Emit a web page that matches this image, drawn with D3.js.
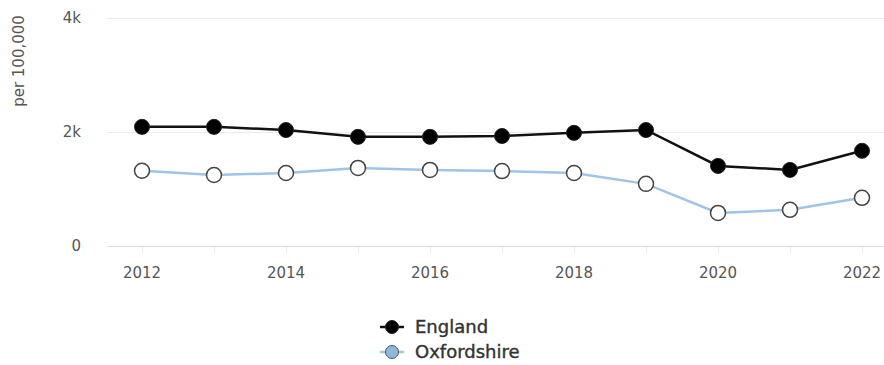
<!DOCTYPE html>
<html>
<head>
<meta charset="utf-8">
<script src="https://cdn.jsdelivr.net/npm/d3@7"></script>
<style>
  body { margin: 0; background: #fff; }
  svg text { font-family: "DejaVu Sans", sans-serif; }
</style>
</head>
<body>
<div id="chart"></div>
<script>
var years = [2012, 2013, 2014, 2015, 2016, 2017, 2018, 2019, 2020, 2021, 2022];
var england = [2090, 2090, 2035, 1915, 1915, 1930, 1985, 2035, 1405, 1335, 1670];
var oxfordshire = [1320, 1245, 1280, 1370, 1335, 1315, 1280, 1090, 580, 635, 845];
var yTicks = [0, 2000, 4000];
var xTicks = [2012, 2014, 2016, 2018, 2020, 2022];

var svg = d3.select("#chart").append("svg")
    .attr("width", 884)
    .attr("height", 365);

var x = d3.scaleLinear()
    .domain([2012, 2022])
    .range([142, 862]);

var y = d3.scaleLinear()
    .domain([0, 4000])
    .range([246, 18]);

// grid
svg.append("g")
  .selectAll("line")
  .data(yTicks).enter()
  .append("line")
    .attr("x1", 107)
    .attr("x2", 884)
    .attr("y1", d => y(d) + 0.5)
    .attr("y2", d => y(d) + 0.5)
    .attr("stroke", d => d == 0 ? "#d8dde6" : "#ececec")
    .attr("stroke-width", 1);

// x tick marks
svg.append("g")
  .selectAll("line")
  .data(years).enter()
  .append("line")
    .attr("x1", d => x(d) + 0.5)
    .attr("x2", d => x(d) + 0.5)
    .attr("y1", 247)
    .attr("y2", 254)
    .attr("stroke", "#ececec");

svg.append("g")
  .selectAll("text")
  .data(xTicks).enter()
  .append("text")
    .attr("x", d => x(d))
    .attr("y", 278)
    .attr("text-anchor", "middle")
    .attr("fill", "#555")
    .style("font-size", "15px")
    .text(d => d);

svg.append("g")
  .selectAll("text")
  .data(yTicks).enter()
  .append("text")
    .attr("x", 81)
    .attr("y", d => y(d) + 5)
    .attr("text-anchor", "end")
    .attr("fill", "#555")
    .style("font-size", "15px")
    .text(d => d == 0 ? "0" : (d / 1000) + "k");

svg.append("text")
    .attr("transform", "translate(24,61) rotate(-90)")
    .attr("text-anchor", "middle")
    .attr("fill", "#555")
    .style("font-size", "15px")
    .text("per 100,000");

var line = d3.line()
    .x((d, i) => x(years[i]))
    .y(d => y(d));

svg.append("path")
    .attr("d", line(oxfordshire))
    .attr("fill", "none")
    .attr("stroke", "#9fc4e8")
    .attr("stroke-width", 2.5);

svg.append("path")
    .attr("d", line(england))
    .attr("fill", "none")
    .attr("stroke", "#111")
    .attr("stroke-width", 2.5);

svg.append("g")
  .selectAll("circle")
  .data(england).enter()
  .append("circle")
    .attr("cx", (d, i) => x(years[i]))
    .attr("cy", d => y(d))
    .attr("r", 7.5)
    .attr("fill", "#000")
    .attr("stroke", "#222")
    .attr("stroke-width", 1);

svg.append("g")
  .selectAll("circle")
  .data(oxfordshire).enter()
  .append("circle")
    .attr("cx", (d, i) => x(years[i]))
    .attr("cy", d => y(d))
    .attr("r", 7.5)
    .attr("fill", "#fff")
    .attr("stroke", "#444")
    .attr("stroke-width", 1.5);

// legend
var legend = [
  {name: "England", line: "#111", fill: "#000", stroke: "#222"},
  {name: "Oxfordshire", line: "#9fc4e8", fill: "#8fb8e0", stroke: "#555"}
];

var lg = svg.append("g")
  .selectAll("g")
  .data(legend).enter()
  .append("g")
    .attr("transform", (d, i) => "translate(392," + (327 + i * 25) + ")");

lg.append("line")
    .attr("x1", -12).attr("x2", 12)
    .attr("stroke", d => d.line)
    .attr("stroke-width", 2.5);

lg.append("circle")
    .attr("r", 6.5)
    .attr("fill", d => d.fill)
    .attr("stroke", d => d.stroke);

lg.append("text")
    .attr("x", 23)
    .attr("y", 6)
    .attr("fill", "#333")
    .attr("stroke", "#333")
    .attr("stroke-width", 0.4)
    .style("font-size", "18px")
    .text(d => d.name);
</script>
</body>
</html>
